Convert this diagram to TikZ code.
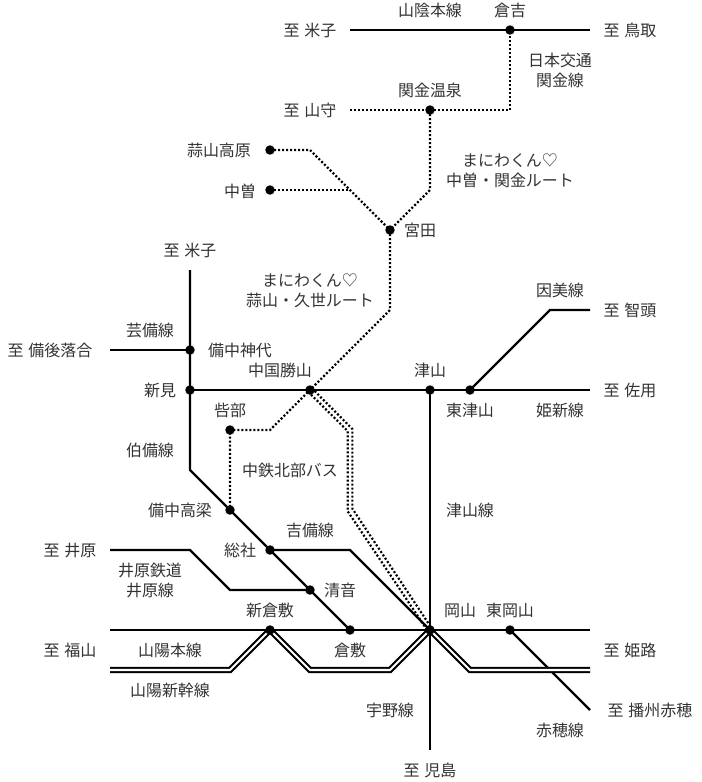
\documentclass[tikz,border=0pt]{standalone}
\usepackage{fontspec}
\setmainfont{Noto Sans CJK JP}
\tikzset{
  stn/.style={circle,fill=black,inner sep=0pt,minimum size=5.4pt},
  lbl/.style={inner sep=0pt,yshift=-0.5pt,font=\fontsize{9.1pt}{10.5pt}\selectfont,text=black!80},
  rail/.style={line width=1.25pt,line join=miter},
  dotrail/.style={line width=1.25pt,dash pattern=on 1.14pt off 1.14pt},
  shinkansen/.style={double,line width=1.2pt,double distance=1.15pt,line join=miter},
}
% label: name, position, text
\NewDocumentCommand{\lbl}{mmm}{\node[lbl] (#1) at (#2) {#3};}
% destination label, the gap after the first sign is wider
\NewDocumentCommand{\dest}{mmm}{\node[lbl] (#1) at (#2) {至\hspace{0.3em}#3};}
\begin{document}
\begin{tikzpicture}[x=0.02cm,y=-0.02cm]
        \useasboundingbox (0,0) rectangle (702,782);

        % stations
        \foreach \n/\x/\y in {kurayoshi/510/30, sekigane/430/110, hiruzen/270/150, nakaso/270/190, miyata/390/230,
                kojiro/190/350, niimi/190/390, katsuyama/310/390, tsuyama/430/390, higashitsuyama/470/390,
                azae/230/430, takahashi/230/510, soja/270/550, kiyone/310/590,
                shinkurashiki/270/630, kurashiki/350/630, okayama/430/630, higashiokayama/510/630}
                {\coordinate (\n) at (\x,\y);}

        % free ends
        \coordinate (yonagoN) at (350,30);
        \coordinate (tottori) at (590,30);
        \coordinate (yamamori) at (350,110);
        \coordinate (yonagoW) at (190,270);
        \coordinate (bingo) at (110,350);
        \coordinate (chizu) at (590,310);
        \coordinate (sayo) at (590,390);
        \coordinate (ibara) at (110,550);
        \coordinate (fukuyama) at (110,630);
        \coordinate (himeji) at (590,630);
        \coordinate (kojima) at (430,750);
        \coordinate (ako) at (590,710);
        \coordinate (fukuyamaS) at (110,670);
        \coordinate (himejiS) at (590,670);

        % conventional lines
        \draw[rail] (yonagoN) -- (kurayoshi) -- (tottori);
        \draw[rail] (yonagoW) -- (kojiro) -- (niimi) -- (190,470) -- (takahashi) -- (soja) -- (kiyone) -- (kurashiki);
        \draw[rail] (bingo) -- (kojiro);
        \draw[rail] (niimi) -- (katsuyama) -- (tsuyama) -- (higashitsuyama) -- (sayo);
        \draw[rail] (higashitsuyama) -- (550,310) -- (chizu);
        \draw[rail] (tsuyama) -- (okayama) -- (kojima);
        \draw[rail] (soja) -- (350,550) -- (okayama);
        \draw[rail] (ibara) -- (190,550) -- (230,590) -- (kiyone);
        \draw[rail] (fukuyama) -- (shinkurashiki) -- (kurashiki) -- (okayama) -- (higashiokayama) -- (himeji);
        \draw[rail] (higashiokayama) -- (ako);

        % shinkansen
        \draw[shinkansen] (fukuyamaS) -- (230,670) -- (shinkurashiki) -- (310,670) -- (390,670) -- (okayama) -- (470,670) -- (himejiS);

        % bus routes
        \draw[dotrail] (yamamori) -- (sekigane) -- (510,110) -- (kurayoshi);
        \draw[dotrail] (sekigane) -- (430,190) -- (miyata);
        \draw[dotrail] (hiruzen) -- (310,150) -- (miyata);
        \draw[dotrail] (nakaso) -- (350,190);
        \draw[dotrail] (miyata) -- (390,310) -- (katsuyama) -- (270,430) -- (azae) -- (takahashi);
        \draw[dotrail] ([shift={(-1.8,1.8)}]katsuyama) -- (347.7,431) -- (347.7,511.3) -- ([shift={(-2,1.3)}]okayama);
        \draw[dotrail] ([shift={(1.8,-1.8)}]katsuyama) -- (352.4,429) -- (352.4,508.7) -- ([shift={(2,-1.3)}]okayama);

        % dots on top
        \foreach \n in {kurayoshi,sekigane,hiruzen,nakaso,miyata,kojiro,niimi,katsuyama,tsuyama,higashitsuyama,
                azae,takahashi,soja,kiyone,shinkurashiki,kurashiki,okayama,higashiokayama}
                {\node[stn] (d\n) at (\n) {};}

        % top
        \dest{tYonagoN}{310,30}{米子}
        \lbl{tSanin}{430,10}{山陰本線}
        \lbl{tKurayoshi}{510,10}{倉吉}
        \dest{tTottori}{630,30}{鳥取}
        \lbl{tNikko}{560,60}{日本交通}
        \lbl{tSekiganeL}{560,80}{関金線}
        \lbl{tSekigane}{430,90}{関金温泉}
        \dest{tYamamori}{310,110}{山守}
        \lbl{tHiruzen}{219,150}{蒜山高原}
        \lbl{tNakaso}{240,190}{中曽}
        \lbl{tManiwaA}{510,160}{まにわくん♡}
        \lbl{tRouteA}{510,180}{中曽・関金ルート}
        \lbl{tMiyata}{420,230}{宮田}
        \lbl{tManiwaB}{310,280}{まにわくん♡}
        \lbl{tRouteB}{310,300}{蒜山・久世ルート}

        % middle
        \dest{tYonagoW}{190,250}{米子}
        \lbl{tInbi}{560,290}{因美線}
        \dest{tChizu}{630,310}{智頭}
        \lbl{tGeibi}{150,330}{芸備線}
        \dest{tBingo}{50,350}{備後落合}
        \lbl{tKojiro}{240,350}{備中神代}
        \lbl{tKatsuyama}{280,370}{中国勝山}
        \lbl{tTsuyama}{430,370}{津山}
        \lbl{tNiimi}{160,390}{新見}
        \dest{tSayo}{630,390}{佐用}
        \lbl{tAzae}{230,410}{呰部}
        \lbl{tHigashitsuyama}{470,410}{東津山}
        \lbl{tKishin}{560,410}{姫新線}
        \lbl{tHakubi}{150,450}{伯備線}
        \lbl{tBus}{290,470}{中鉄北部バス}
        \lbl{tTakahashi}{180,510}{備中高梁}
        \lbl{tTsuyamaL}{470,510}{津山線}

        % bottom
        \lbl{tKibi}{310,530}{吉備線}
        \dest{tIbara}{70,550}{井原}
        \lbl{tSoja}{240,550}{総社}
        \lbl{tIbaraA}{150,570}{井原鉄道}
        \lbl{tIbaraB}{150,590}{井原線}
        \lbl{tKiyone}{340,590}{清音}
        \lbl{tShinkurashiki}{270,610}{新倉敷}
        \lbl{tOkayama}{460,610}{岡山}
        \lbl{tHigashiokayama}{510,610}{東岡山}
        \dest{tFukuyama}{70,650}{福山}
        \lbl{tSanyo}{170,650}{山陽本線}
        \lbl{tKurashiki}{350,650}{倉敷}
        \dest{tHimeji}{630,650}{姫路}
        \lbl{tShinkansen}{170,690}{山陽新幹線}
        \dest{tAko}{650,710}{播州赤穂}
        \lbl{tUno}{390,710}{宇野線}
        \lbl{tAkoL}{560,730}{赤穂線}
        \dest{tKojima}{430,770}{児島}
\end{tikzpicture}
\end{document}
